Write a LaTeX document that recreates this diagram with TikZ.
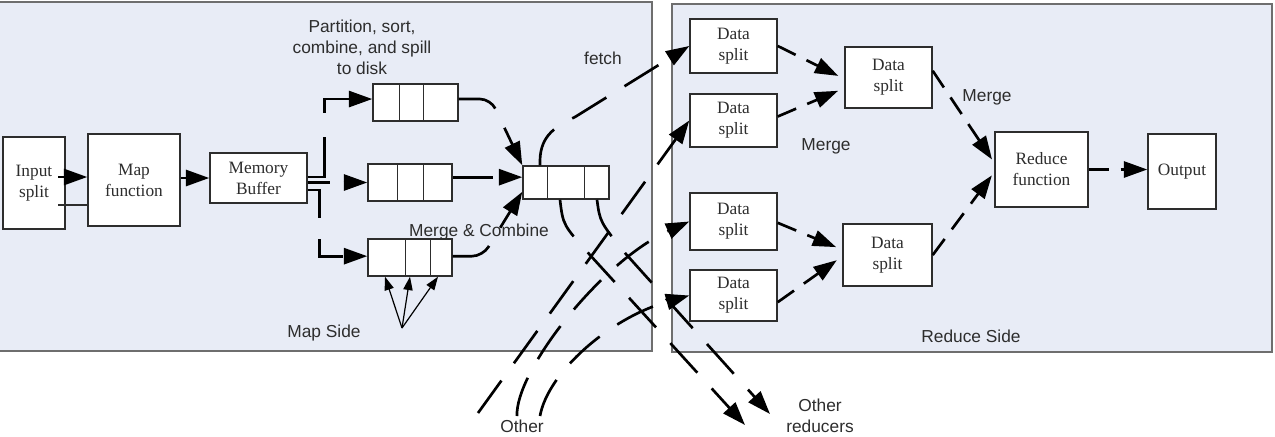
\documentclass[tikz,border=0pt]{standalone}
\usepackage{fontspec}
\setmainfont{Liberation Serif}
\setsansfont{Liberation Sans}
\usetikzlibrary{arrows.meta}
\definecolor{panelfill}{RGB}{232,236,246}
\definecolor{panelline}{RGB}{110,110,110}
\definecolor{boxline}{RGB}{45,45,45}
\definecolor{txt}{RGB}{45,45,45}
\tikzset{
  panel/.style={draw=panelline, line width=1.5pt, fill=panelfill},
  box/.style={draw=boxline, line width=1.1pt, fill=white, inner sep=1pt, align=center, text=txt,
    font=\fontsize{13}{15.75}\selectfont},
  qbox/.style={draw=boxline, line width=1.1pt, fill=white, inner sep=0pt},
  divider/.style={draw=boxline, line width=1.1pt},
  lbl/.style={font=\sffamily\fontsize{13}{15.75}\selectfont, align=center, text=txt},
  conn/.style={line width=2pt, draw=black},
  tipbig/.style={-{Triangle[length=17.5pt,width=12pt]}},
  longdash/.style={dash pattern=on 30pt off 16pt},
  shortdash/.style={dash pattern=on 15pt off 9pt},
  thinarrow/.style={line width=0.9pt, draw=black, -{Triangle[length=10pt,width=7pt]}},
  thinline/.style={line width=1.1pt, draw=boxline}
}
\begin{document}
\begin{tikzpicture}[x=0.75pt,y=-0.75pt]
\useasboundingbox (0,0) rectangle (1275,436);
\fill[white] (0,0) rectangle (1275,436);
% panels
\draw[panel] (-2,2) rectangle (652,351);
\draw[panel] (672,4) rectangle (1272,352);

% map side boxes
\node[box, minimum width=46.5pt, minimum height=69pt] (inp) at (34,183) {Input\\split};
\node[box, minimum width=69pt, minimum height=69pt] (mapf) at (134,180) {Map\\function};
\node[box, minimum width=72.75pt, minimum height=37.5pt] (mem) at (258.5,178) {Memory\\Buffer};

% queues
\node[qbox, minimum width=63.75pt, minimum height=27.75pt] (q1) at (415.5,102.5) {};
\draw[divider] ([xshift=20.25pt]q1.north west) -- ([xshift=20.25pt]q1.south west);
\draw[divider] ([xshift=38.25pt]q1.north west) -- ([xshift=38.25pt]q1.south west);
\node[qbox, minimum width=63pt, minimum height=27.75pt] (q2) at (410,182.5) {};
\draw[divider] ([xshift=22.5pt]q2.north west) -- ([xshift=22.5pt]q2.south west);
\draw[divider] ([xshift=42pt]q2.north west) -- ([xshift=42pt]q2.south west);
\node[qbox, minimum width=63pt, minimum height=27.75pt] (q3) at (410,257.5) {};
\draw[divider] ([xshift=28.5pt]q3.north west) -- ([xshift=28.5pt]q3.south west);
\draw[divider] ([xshift=47.25pt]q3.north west) -- ([xshift=47.25pt]q3.south west);
\node[qbox, minimum width=64.5pt, minimum height=24.75pt] (qm) at (566,182.5) {};
\draw[divider] ([xshift=18.75pt]qm.north west) -- ([xshift=18.75pt]qm.south west);
\draw[divider] ([xshift=46.5pt]qm.north west) -- ([xshift=46.5pt]qm.south west);

% reduce side boxes
\node[box, minimum width=65.25pt, minimum height=40.5pt] (ds1) at (733.5,46) {Data\\split};
\node[box, minimum width=65.25pt, minimum height=39.75pt] (ds2) at (733.5,120.5) {Data\\split};
\node[box, minimum width=65.25pt, minimum height=42.75pt] (ds3) at (733.5,221.5) {Data\\split};
\node[box, minimum width=65.25pt, minimum height=38.25pt] (ds4) at (733.5,295.5) {Data\\split};
\node[box, minimum width=65.25pt, minimum height=45.75pt] (ds5) at (888.5,77.5) {Data\\split};
\node[box, minimum width=66.75pt, minimum height=46.5pt] (ds6) at (887.5,255) {Data\\split};
\node[box, minimum width=69.75pt, minimum height=56.25pt] (red) at (1041.5,169.5) {Reduce\\function};
\node[box, minimum width=51pt, minimum height=56.25pt] (out) at (1182,171.5) {Output};

% labels
\node[lbl] (tpart) at (362,47) {Partition, sort,\\combine, and spill\\to disk};
\node[lbl] (tfetch) at (603,58) {fetch};
\node[lbl] (tmc) at (479,232) {Merge \& Combine};
\node[lbl] (tmap) at (324,333) {Map Side};
\node[lbl] (tm1) at (826,146) {Merge};
\node[lbl] (tm2) at (987,97) {Merge};
\node[lbl] (tred) at (971,336) {Reduce Side};
\node[lbl, anchor=base] (tom) at (522,432) {Other};
\node[lbl] (tor) at (820,416) {Other\\reducers};

% free ends
\coordinate (in1) at (58,177);
\coordinate (in2) at (58,205);
\coordinate (apex) at (402,328);
\coordinate (oA) at (478,413);
\coordinate (oB) at (517,416);
\coordinate (oC) at (540,416);
\coordinate (rD) at (745,425);
\coordinate (rE) at (770,414);

% map side connectors
\draw[conn, tipbig] (in1) -- (mapf.west |- in1);
\draw[thinline] (in2) -- (mapf.west |- in2);
\draw[conn, tipbig] (mapf.east |- mem.west) -- (mem.west);
\draw[conn, tipbig, dash pattern=on 43pt off 18pt]
  ([yshift=0.75pt]mem.east) -- ++(17,0) |- ([yshift=2.6pt]q1.west);
\draw[conn, tipbig, dash pattern=on 17pt off 10pt] (mem.east |- q2.west) -- (q2.west);
\draw[conn, tipbig, longdash]
  ([yshift=-9pt]mem.east) -- ++(12,0) |- ([yshift=1pt]q3.west);
\draw[conn, tipbig, longdash, rounded corners=8pt]
  ([yshift=2.6pt]q1.east) -- ++(32,0) -- (qm.north west);
\draw[conn, tipbig, dash pattern=on 30pt off 6pt] ([yshift=4pt]q2.east) -- ([yshift=4pt]qm.west);
\draw[conn, tipbig, longdash, rounded corners=8pt]
  ([yshift=1pt]q3.east) -- ++(30,0) -- ([yshift=-7pt]qm.west);
\draw[thinarrow] (apex) -- ([xshift=-18.75pt]q3.south);
\draw[thinarrow] (apex) -- (q3.south);
\draw[thinarrow] (apex) -- ([xshift=21pt]q3.south);

% fetch and other maps
\draw[conn, tipbig, longdash]
  ([xshift=-19.5pt]qm.north) .. controls (539,138) and (552,128) .. (575,117) -- (ds1.west);
\draw[conn, tipbig, longdash] (oA) -- (ds2.west);
\draw[conn, tipbig, longdash] (oB) .. controls (515,372) and (600,262) .. (ds3.west);
\draw[conn, tipbig, longdash] (oC) .. controls (548,372) and (610,318) .. (ds4.west);
% to other reducers
\draw[conn, tipbig, longdash]
  ([xshift=-4.5pt]qm.south) .. controls (563,225) .. (590,255) -- (rD);
\draw[conn, tipbig, longdash]
  ([xshift=23.25pt]qm.south) .. controls (600,222) .. (625,253) -- (rE);

% reduce side connectors
\draw[conn, tipbig, shortdash, shorten >=5pt] (ds1.east) -- ([yshift=-1pt]ds5.west);
\draw[conn, tipbig, shortdash, shorten >=5pt] ([yshift=3pt]ds2.east) -- ([yshift=-8pt]ds5.west);
\draw[conn, tipbig, shortdash, shorten >=5pt] ([yshift=-1pt]ds3.east) -- ([yshift=4pt]ds6.west);
\draw[conn, tipbig, shortdash, shorten >=5pt] ([yshift=-5pt]ds4.east) -- ([yshift=-1pt]ds6.west);
\draw[conn, tipbig, shortdash, shorten >=3pt] ([yshift=5pt]ds5.east) -- ([yshift=5pt]red.west);
\draw[conn, tipbig, shortdash, shorten >=3pt] (ds6.east) -- ([yshift=-2pt]red.west);
\draw[conn, tipbig, shortdash] (red.east) -- (red.east -| out.west);
\end{tikzpicture}
\end{document}
